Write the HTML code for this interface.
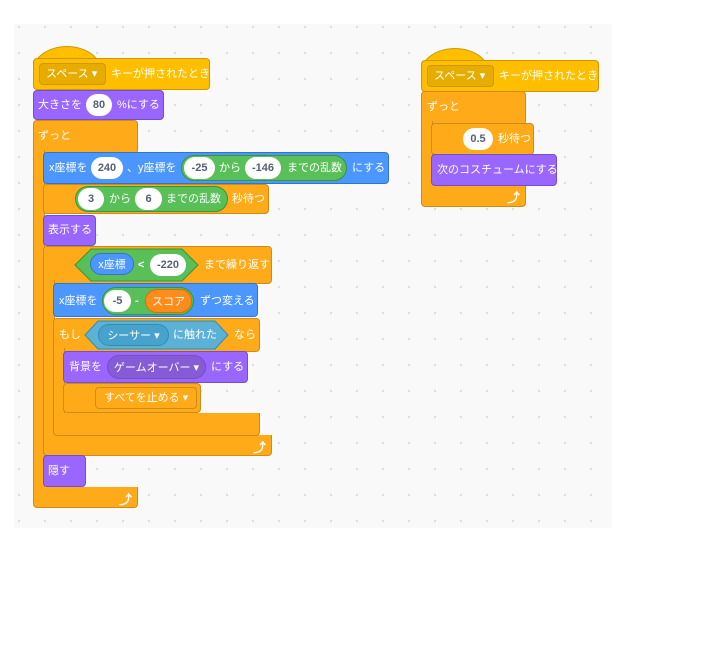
<!DOCTYPE html>
<html><head><meta charset="utf-8">
<style>
*{margin:0;padding:0;box-sizing:border-box}
body{width:701px;height:654px;background:#fff;position:relative;overflow:hidden;font-family:"Liberation Sans","Noto Sans CJK JP",sans-serif;}
#ws{position:absolute;left:14px;top:24px;width:598px;height:504px;background-color:#f9f9f9;
background-image:radial-gradient(circle,#dcdcdc 1px,transparent 1.3px);background-size:26px 26px;background-position:-8px -10px;}
.b{position:absolute;border-radius:4px;}
.o{background:#ffab19;border:1px solid #cf8b17;}
.y{background:#ffbf00;border:1px solid #cc9900;}
.p{background:#9966ff;border:1px solid #774dcb;}
.bl{background:#4c97ff;border:1px solid #3373cc;}
.g{background:#59c059;border:1px solid #389438;border-radius:14px;}
.arm{position:absolute;background:#ffab19;border-left:1px solid #cf8b17;border-right:1px solid #cf8b17;}
.t{position:absolute;color:#fff;font-size:11px;line-height:14px;white-space:nowrap;}
.w{position:absolute;background:#fff;border-radius:12px;color:#575e75;font-size:11px;font-weight:bold;text-align:center;line-height:22px;height:22px;}
.dd{position:absolute;border-radius:4px;color:#fff;font-size:11px;line-height:20px;height:22px;padding-left:6px;white-space:nowrap;}
.rr{position:absolute;border-radius:12px;color:#fff;font-size:11px;line-height:22px;height:22px;text-align:center;white-space:nowrap;}
.cap{position:absolute;background:#ffbf00;border:1px solid #cc9900;border-bottom:none;border-radius:50% 50% 0 0/100% 100% 0 0;}
.ar{position:absolute;color:#fff;font-size:13px;font-weight:bold;}
</style></head><body>
<div id="ws"></div>

<!-- Script 1 -->
<div class="cap" style="left:33px;top:46px;width:68px;height:24px"></div>
<div class="b y" style="left:33px;top:58px;width:177px;height:32px"></div>
<div class="dd" style="left:39px;top:63px;width:67px;background:#e6ac00;border:1px solid #cc9900">スペース ▾</div>
<div class="t" style="left:111px;top:67px">キーが押されたとき</div>

<div class="b p" style="left:33px;top:90px;width:131px;height:30px"></div>
<div class="t" style="left:38px;top:98px">大きさを</div>
<div class="w" style="left:86px;top:94px;width:26px">80</div>
<div class="t" style="left:117px;top:98px">%にする</div>

<!-- forever -->
<div class="b o" style="left:33px;top:120px;width:105px;height:34px"></div>
<div class="arm" style="left:33px;top:150px;width:12px;height:340px"></div>
<div class="b o" style="left:33px;top:487px;width:105px;height:21px;border-top:none;border-radius:0 0 4px 4px"></div>
<div class="t" style="left:38px;top:129px">ずっと</div>
<div class="ar" style="left:119px;top:489px">⤴</div>

<!-- set xy -->
<div class="b bl" style="left:43px;top:152px;width:346px;height:32px"></div>
<div class="t" style="left:49px;top:161px">x座標を</div>
<div class="w" style="left:91px;top:157px;width:32px">240</div>
<div class="t" style="left:127px;top:161px">、y座標を</div>
<div class="b g" style="left:181px;top:155px;width:166px;height:26px"></div>
<div class="w" style="left:184px;top:157px;width:31px">-25</div>
<div class="t" style="left:219px;top:161px">から</div>
<div class="w" style="left:245px;top:157px;width:36px">-146</div>
<div class="t" style="left:287px;top:161px">までの乱数</div>
<div class="t" style="left:352px;top:161px">にする</div>

<!-- wait -->
<div class="b o" style="left:43px;top:184px;width:226px;height:30px"></div>
<div class="b g" style="left:75px;top:186px;width:153px;height:26px"></div>
<div class="w" style="left:78px;top:188px;width:26px">3</div>
<div class="t" style="left:109px;top:192px">から</div>
<div class="w" style="left:135px;top:188px;width:27px">6</div>
<div class="t" style="left:166px;top:192px">までの乱数</div>
<div class="t" style="left:232px;top:192px">秒待つ</div>

<div class="b p" style="left:43px;top:215px;width:53px;height:31px"></div>
<div class="t" style="left:48px;top:223px">表示する</div>

<!-- repeat until -->
<div class="b o" style="left:43px;top:246px;width:229px;height:38px"></div>
<div class="arm" style="left:43px;top:280px;width:12px;height:158px"></div>
<div class="b o" style="left:43px;top:435px;width:229px;height:21px;border-top:none;border-radius:0 0 4px 4px"></div>
<div class="ar" style="left:253px;top:437px">⤴</div>
<svg style="position:absolute;left:74px;top:248px" width="126" height="34"><polygon points="1,17 17,1 108,1 124,17 108,33 17,33" fill="#59c059" stroke="#389438"/></svg>
<div class="rr" style="left:90px;top:253px;width:44px;background:#4c97ff;border:1px solid #3373cc">x座標</div>
<div class="t" style="left:138px;top:258px;font-weight:bold">&lt;</div>
<div class="w" style="left:150px;top:254px;width:36px">-220</div>
<div class="t" style="left:204px;top:258px">まで繰り返す</div>

<!-- change x -->
<div class="b bl" style="left:53px;top:283px;width:205px;height:34px"></div>
<div class="t" style="left:59px;top:294px">x座標を</div>
<div class="b g" style="left:102px;top:287px;width:92px;height:28px"></div>
<div class="w" style="left:104px;top:290px;width:27px">-5</div>
<div class="t" style="left:135px;top:294px;font-weight:bold">-</div>
<div class="rr" style="left:145px;top:289px;width:47px;height:24px;line-height:24px;background:#ff8c1a;border:1px solid #db6e00">スコア</div>
<div class="t" style="left:200px;top:294px">ずつ変える</div>

<!-- if -->
<div class="b o" style="left:53px;top:318px;width:207px;height:34px"></div>
<div class="arm" style="left:53px;top:348px;width:12px;height:68px"></div>
<div class="b o" style="left:53px;top:413px;width:207px;height:23px;border-top:none;border-radius:0 0 4px 4px"></div>
<div class="t" style="left:59px;top:328px">もし</div>
<svg style="position:absolute;left:84px;top:320px" width="146" height="30"><polygon points="1,15 14,1 131,1 144,15 131,29 14,29" fill="#5cb1d6" stroke="#2e8eb8"/></svg>
<div class="rr" style="left:98px;top:324px;width:71px;background:#47a3cb;border:1px solid #2e8eb8">シーサー ▾</div>
<div class="t" style="left:173px;top:328px">に触れた</div>
<div class="t" style="left:234px;top:328px">なら</div>

<div class="b p" style="left:63px;top:351px;width:185px;height:32px"></div>
<div class="t" style="left:69px;top:360px">背景を</div>
<div class="rr" style="left:107px;top:355px;width:99px;height:24px;line-height:24px;background:#855cd6;border:1px solid #774dcb">ゲームオーバー ▾</div>
<div class="t" style="left:211px;top:360px">にする</div>

<div class="b o" style="left:63px;top:383px;width:138px;height:30px"></div>
<div class="dd" style="left:95px;top:387px;width:102px;background:#ffab19;border:1px solid #cf8b17;padding-left:8px">すべてを止める ▾</div>

<div class="b p" style="left:43px;top:455px;width:43px;height:32px"></div>
<div class="t" style="left:48px;top:464px">隠す</div>

<!-- Script 2 -->
<div class="cap" style="left:421px;top:48px;width:68px;height:24px"></div>
<div class="b y" style="left:421px;top:60px;width:178px;height:32px"></div>
<div class="dd" style="left:427px;top:65px;width:67px;background:#e6ac00;border:1px solid #cc9900">スペース ▾</div>
<div class="t" style="left:499px;top:69px">キーが押されたとき</div>

<div class="b o" style="left:421px;top:91px;width:105px;height:34px"></div>
<div class="arm" style="left:421px;top:121px;width:12px;height:68px"></div>
<div class="b o" style="left:421px;top:185px;width:105px;height:22px;border-top:none;border-radius:0 0 4px 4px"></div>
<div class="t" style="left:427px;top:100px">ずっと</div>
<div class="ar" style="left:507px;top:187px">⤴</div>

<div class="b o" style="left:431px;top:123px;width:103px;height:32px"></div>
<div class="w" style="left:463px;top:128px;width:30px">0.5</div>
<div class="t" style="left:498px;top:132px">秒待つ</div>

<div class="b p" style="left:431px;top:154px;width:126px;height:32px"></div>
<div class="t" style="left:437px;top:163px">次のコスチュームにする</div>
</body></html>
